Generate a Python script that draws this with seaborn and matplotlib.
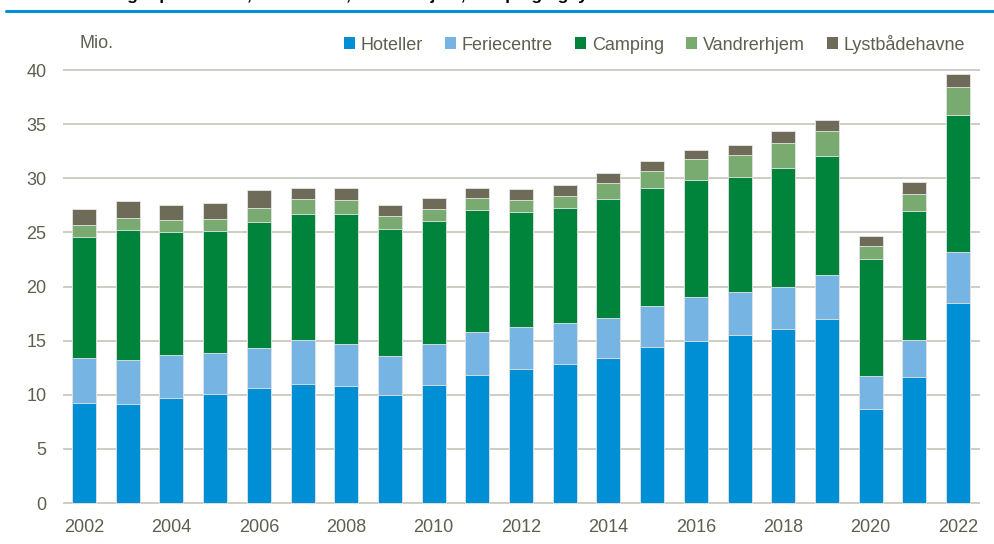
import numpy as np
import pandas as pd
import matplotlib.pyplot as plt
import seaborn as sns
from matplotlib.lines import Line2D
from matplotlib.patches import Patch

years = [str(y) for y in range(2002, 2023)]

# overnatninger, mio.
hoteller = [9.24, 9.18, 9.70, 10.07, 10.62, 11.02, 10.84, 9.95, 10.90, 11.82, 12.38,
            12.84, 13.42, 14.38, 14.99, 15.55, 16.04, 17.03, 8.71, 11.61, 18.50]
feriecentre = [4.15, 4.03, 3.94, 3.79, 3.73, 4.07, 3.82, 3.66, 3.76, 4.01, 3.88,
               3.76, 3.67, 3.82, 4.01, 3.91, 3.89, 4.03, 2.99, 3.48, 4.66]
camping = [11.18, 12.04, 11.43, 11.27, 11.64, 11.64, 12.07, 11.73, 11.39, 11.20, 10.59,
           10.68, 11.02, 10.90, 10.87, 10.69, 11.05, 11.03, 10.81, 11.91, 12.71]
vandrerhjem = [1.08, 1.05, 1.03, 1.07, 1.23, 1.32, 1.26, 1.14, 1.08, 1.15, 1.14,
               1.08, 1.42, 1.57, 1.91, 2.00, 2.28, 2.25, 1.23, 1.57, 2.56]
lystbaadehavne = [1.51, 1.57, 1.43, 1.49, 1.69, 1.05, 1.14, 1.05, 1.02, 0.95, 0.99,
                  1.05, 0.95, 0.89, 0.86, 0.89, 1.08, 1.01, 0.96, 1.08, 1.20]

series = ['Hoteller', 'Feriecentre', 'Camping', 'Vandrerhjem', 'Lystbådehavne']
colors = ['#008fd5', '#76b5e3', '#00833a', '#79aa6f', '#6e6c59']
title = 'Overnatninger på hoteller, feriecentre, vandrerhjem, camping og lystbådehavne'

sns.set_style('white')
plt.rcParams['font.family'] = ['Liberation Sans', 'DejaVu Sans']
txt_col = '#5f5f50'
grid_col = '#c9c9bf'
fs = 13

df = pd.DataFrame({'year': years, 'Hoteller': hoteller, 'Feriecentre': feriecentre,
                   'Camping': camping, 'Vandrerhjem': vandrerhjem,
                   'Lystbådehavne': lystbaadehavne})
cum = df[series].cumsum(axis=1)

fig = plt.figure(figsize=(9.95, 5.44), dpi=100)
ax = fig.add_axes([63 / 995, 1 - 505.2 / 544, 917 / 995, 439.5 / 544])

# stablede søjler: tegn kumulerede summer oppefra og ned
for s, c in reversed(list(zip(series, colors))):
    sns.barplot(x=df['year'], y=cum[s], order=years, color=c, saturation=1,
                width=0.55, errorbar=None, edgecolor='#e6e6e6', linewidth=0.6,
                ax=ax, zorder=3)

ax.set_xlim(-0.48, 20.5)
ax.set_ylim(-0.2, 40.4)
ax.set_yticks(range(0, 41, 5))
ax.set_xticks(range(0, 21, 2))
ax.set_xticklabels(years[::2])
ax.set_xlabel('')
ax.set_ylabel('')
ax.yaxis.grid(True, color=grid_col, linewidth=1.3, zorder=0)
ax.set_axisbelow(True)
for sp in ax.spines.values():
    sp.set_visible(False)
ax.tick_params(axis='both', length=0, labelsize=fs, labelcolor=txt_col)
ax.tick_params(axis='y', pad=12)
ax.tick_params(axis='x', pad=10)

fig.text(80 / 995, 1 - 44 / 544, 'Mio.', fontsize=fs, color=txt_col, va='center')

handles = [Patch(facecolor=c, edgecolor='none', label=s) for s, c in zip(series, colors)]
fig.legend(handles=handles, ncol=5, loc='center right', bbox_to_anchor=(972 / 995, 1 - 44 / 544),
           frameon=False, fontsize=fs, labelcolor=txt_col, handlelength=0.6,
           handleheight=0.6, handletextpad=0.3, columnspacing=1.25, borderaxespad=0)

# afskåret overskrift og blå linje øverst
fig.text(35 / 995, 1.0, title, fontsize=12.6, fontweight='bold', color='black',
         va='baseline')
fig.add_artist(Line2D([6 / 995, 1], [1 - 11 / 544, 1 - 11 / 544], color='#0090d5',
                      linewidth=2.2, transform=fig.transFigure))

fig.savefig('out.png', dpi=100)
